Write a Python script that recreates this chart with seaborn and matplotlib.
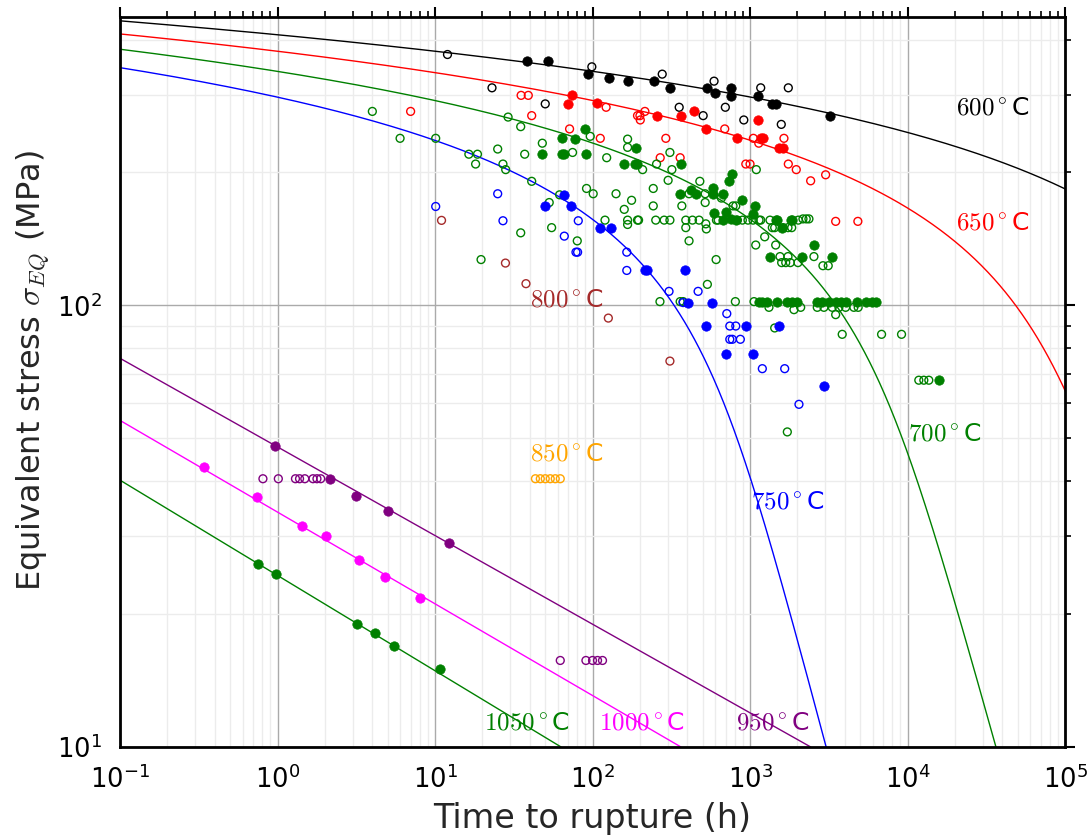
import numpy as np
import matplotlib
matplotlib.use("Agg")
import matplotlib.pyplot as plt
from matplotlib.ticker import NullFormatter, FixedLocator, LogFormatterSciNotation
import seaborn as sns

sns.set_theme(style="white")
plt.rcParams['font.family'] = ['DejaVu Sans']
plt.rcParams['mathtext.fontset'] = 'dejavusans'

# ---------------- data (time to rupture in h, stress in MPa) ----------------
# 600 C
t600_f = [38.2, 52.4, 93.5, 127, 168, 247, 311, 536, 597, 758, 755, 1129, 1373, 1455, 3217]
s600_f = [358, 358, 334, 328, 323, 322, 311, 311, 303, 311, 298, 298, 286, 286, 269]
t600_o = [12.0, 99, 277, 23.0, 50.1, 355, 591, 697, 504, 1169, 1750, 913, 1579]
s600_o = [370, 347, 334, 311, 286, 281, 322, 281, 269, 311, 311, 263, 257]

# 650 C
t650_f = [74.4, 70.2, 106, 256, 367, 442, 526, 831, 1129, 1169, 1209, 1527, 1619]
s650_f = [299, 286, 287, 269, 269, 275, 251, 239, 263, 239, 239, 227, 227]
t650_o = [7.0, 35.2, 39.1, 41.1, 122, 71.5, 112, 193, 200, 215, 201, 691, 1050, 1136,
          1642, 292, 269, 360, 940, 1000, 1750, 1966, 2426, 3020, 3497, 4838]
s650_o = [275, 299, 299, 269, 281, 251, 239, 269, 269, 275, 263, 251, 239, 233,
          239, 239, 216, 216, 209, 209, 209, 203, 191.5, 197.6, 155, 155]

# 700 C
t700_f = [64.3, 77.4, 89.5, 48.0, 64.0, 65.5, 90.3, 159, 187, 191, 188, 364, 360, 425, 453,
          583, 585, 671, 770, 736, 894, 1071, 1045, 591, 708, 674, 755, 812, 1455, 1490,
          1602, 1812, 1855, 1333, 2146, 2545, 3326,
          1141, 1197, 1287, 1490, 1725, 1855, 1995, 2672, 2873, 3170, 3497, 3760, 4045,
          4789, 5416, 5965, 6295, 15800]
s700_f = [239, 238, 251, 220, 220, 220, 220, 209, 209, 209, 227, 209, 179, 183, 179,
          184, 179, 179, 198, 191, 173, 168, 161, 162, 163, 156, 157, 156, 156, 156,
          150, 156, 156, 129, 129, 137, 129,
          102, 102, 102, 102, 102, 102, 102, 102, 102, 102, 102, 102, 102,
          102, 102, 102, 102, 67.7]
t700_o = [4.0, 6.0, 10.1, 29.1, 35.0, 48.0, 96.7, 74.7, 16.4, 18.6, 18.1, 25.0, 27.0, 28.1,
          37.1, 41.1, 53.1, 61.8, 55.0, 35.0, 19.6, 80.0, 91.6, 101, 123, 167, 167, 141,
          177, 159, 243, 243, 208, 255, 310, 319, 302, 480, 369, 410, 519, 658, 780, 812,
          1096, 519, 120, 167, 167, 193, 196, 252, 285, 310, 391, 391, 431, 475, 410, 524,
          528, 612, 627, 609, 831, 894, 971, 1045, 1141, 1169, 1239, 1087, 1455, 1385,
          1434, 1626, 1742, 1839, 2025, 2168, 2275, 2366, 1339, 1550, 1742, 1588, 1685,
          1801, 2016, 2545, 2903, 3137, 268, 360, 376, 807, 1060, 1319, 1901, 2097, 2672,
          2946, 3326, 3667, 4045, 4563, 4860, 3497, 3848, 6842, 9161, 1725, 11790, 12690,
          13650, 1434, 536]
s700_o = [275, 239, 239, 267, 254, 233, 241.5, 222, 220, 220, 209, 226, 209, 203,
          220, 191, 171, 178, 150, 146, 127, 140, 184, 179, 216, 238, 228, 179,
          173, 165, 184, 168, 203, 209, 222, 203, 192, 191, 168, 179, 179, 175, 168, 168,
          203, 171, 156, 156, 152.5, 156, 156, 156, 156, 156, 156, 150, 156, 156, 140, 153,
          149, 156, 156, 127, 156, 156, 156, 156, 156, 156, 143, 137, 137, 150,
          150, 150, 150, 150, 156, 157, 157, 157, 156, 129, 129, 125, 125,
          125, 125, 129, 123, 123, 102, 102, 102, 102, 102, 99, 97.8, 99, 99,
          99, 99, 99, 99, 99, 99, 95.3, 86, 86, 86, 51.7, 67.7, 67.7,
          67.7, 88.9, 111.6]

# 750 C
t750_f = [49.9, 66.2, 73.3, 112, 131, 215, 223, 387, 406, 577, 524, 940, 1527, 701, 1045, 2946]
s750_f = [167.5, 178, 167.5, 150, 150, 120, 120, 120, 101.4, 101.4, 89.8, 89.8, 89.8,
          77.7, 77.7, 65.7]
t750_o = [10.1, 25.0, 27.0, 81.2, 66.2, 78.5, 80.4, 165, 165, 306, 468, 376, 712, 744,
          812, 744, 772, 868, 1197, 1660, 2045]
s750_o = [167.5, 179, 155.5, 155.5, 143.5, 132, 132, 132, 120, 107.6, 107.6, 101.5,
          95.8, 89.8, 89.8, 83.8, 83.8, 83.8, 71.9, 71.9, 59.7]

# 800 C
t800_o = [11.0, 28.0, 37.8, 126, 310]
s800_o = [155.8, 124.7, 112, 93.6, 74.8]

# 850 C
t850_o = [43.4, 46.6, 50.1, 53.9, 58.0, 62.4]
s850_o = [40.5, 40.5, 40.5, 40.5, 40.5, 40.5]

# 950 C
t950_f = [0.963, 2.15, 3.13, 5.01, 12.2]
s950_f = [48.05, 40.5, 37.1, 34.2, 28.9]
t950_o = [0.808, 1.012, 1.30, 1.38, 1.49, 1.68, 1.78, 1.88, 62.4, 90.8, 100, 107.6, 115.7]
s950_o = [40.5, 40.5, 40.5, 40.5, 40.5, 40.5, 40.5, 40.5, 15.7, 15.7, 15.7, 15.7, 15.7]

# 1000 C
t1000_f = [0.341, 0.745, 1.437, 2.04, 3.27, 4.80, 8.0]
s1000_f = [43.05, 36.9, 31.7, 30.0, 26.5, 24.2, 21.7]

# 1050 C
t1050_f = [0.751, 0.983, 3.19, 4.15, 5.53, 10.8]
s1050_f = [25.9, 24.6, 18.95, 18.1, 16.9, 15.0]

# fitted curves: points
c600_t = [0.1, 4.44, 10.06, 99.5, 986, 4910, 96400]
c600_s = [441.4, 387.5, 377.5, 336.6, 298.7, 265, 184.9]
c650_t = [0.1, 4.44, 10.06, 99.5, 986, 4910, 22100, 45860, 88000]
c650_s = [412.5, 351, 336.2, 289.4, 242.5, 193.8, 133.2, 100, 63.2]
c700_t = [0.1, 4.44, 10.06, 110, 410.5, 1015, 2474, 3311, 6577, 9474, 19100, 36840]
c700_s = [381.4, 308.2, 291, 224.3, 188.5, 158.2, 113.9, 99, 67.7, 47, 21.5, 10.1]
c750_t = [0.1, 4.44, 10.06, 39.7, 99.5, 265.6, 551.3, 748.9, 1087, 1820, 3121]
c750_s = [343.8, 259.4, 236.2, 193.8, 153.3, 120, 79.1, 61.6, 36.2, 19.38, 10]
c950_t = [0.1, 2427]
c950_s = [75.9, 10]
c1000_t = [0.1, 364]
c1000_s = [54.9, 10]
c1050_t = [0.1, 63.1]
c1050_s = [40.2, 10]

x_ticks = [0.1, 1, 10, 100, 1000, 10000, 100000]
y_ticks = [10, 100]

labels = ['$600^\\circ$C', '$650^\\circ$C', '$700^\\circ$C', '$750^\\circ$C',
          '$800^\\circ$C', '$850^\\circ$C', '$950^\\circ$C', '$1000^\\circ$C', '$1050^\\circ$C']
label_t = [20250, 20250, 10040, 1015, 40.3, 40.3, 815, 110, 20.6]
label_s = [270.4, 148.5, 49.5, 34.7, 99.5, 44.6, 10.93, 10.93, 10.93]

C600, C650, C700, C750 = 'black', 'red', 'green', 'blue'
C800, C850, C950, C1000, C1050 = 'brown', 'orange', 'purple', 'magenta', 'green'
label_colors = [C600, C650, C700, C750, C800, C850, C950, C1000, C1050]

# ---------------- figure ----------------
fig = plt.figure(figsize=(10.9, 8.36), dpi=100)
ax = fig.add_axes([0.1101, 0.1065, 0.8670, 0.8732])
ax.set_xscale('log')
ax.set_yscale('log')
ax.set_xlim(0.1, 1e5)
ax.set_ylim(10, 450)

ax.grid(which='major', color='#aaaaaa', lw=1.0, zorder=0)
ax.grid(which='minor', color='#ececec', lw=1.0, zorder=0)
ax.set_axisbelow(True)

# ---- Larson-Miller master curve fitted to the points ----
LM_C = 17.5
lm_sets = [(600, c600_t, c600_s), (650, c650_t, c650_s), (700, c700_t, c700_s), (750, c750_t, c750_s)]
ls_all, P_all = [], []
for T, ts, ss in lm_sets:
    Tk = T + 273.15
    ls_all.append(np.log10(ss))
    P_all.append(Tk * (LM_C + np.log10(ts)) / 1000.0)
ls_all = np.concatenate(ls_all)
P_all = np.concatenate(P_all)

# P(log s) = a + b*log s + c*exp(k*log s); k chosen by least squares
best = None
for k in np.linspace(1.5, 12.0, 211):
    A = np.column_stack([np.ones_like(ls_all), ls_all, np.exp(k * ls_all)])
    coef = np.linalg.lstsq(A, P_all, rcond=None)[0]
    r = np.sum((A @ coef - P_all) ** 2)
    if best is None or r < best[0]:
        best = (r, k, coef)
_, lm_k, lm_coef = best


def lm_P(ls):
    return lm_coef[0] + lm_coef[1] * ls + lm_coef[2] * np.exp(lm_k * ls)


def lm_curve(T, col):
    Tk = T + 273.15
    lsg = np.linspace(0.98, 2.66, 900)
    ltg = lm_P(lsg) * 1000.0 / Tk - LM_C
    sns.lineplot(x=10 ** ltg, y=10 ** lsg, ax=ax, color=col, lw=1.0, sort=False,
                 estimator=None, zorder=2)


lm_curve(600, C600)
lm_curve(650, C650)
lm_curve(700, C700)
lm_curve(750, C750)

for ts, ss, col in [(c950_t, c950_s, C950), (c1000_t, c1000_s, C1000), (c1050_t, c1050_s, C1050)]:
    sns.lineplot(x=ts, y=ss, ax=ax, color=col, lw=1.0, sort=False, estimator=None, zorder=2)


def filled(t, s, col):
    sns.scatterplot(x=t, y=s, ax=ax, color=col, edgecolor=col, s=46, linewidth=0.5, zorder=3)


def hollow(t, s, col):
    sns.scatterplot(x=t, y=s, ax=ax, facecolor='none', edgecolor=col, s=32, linewidth=1.0, zorder=3)


hollow(t600_o, s600_o, C600); filled(t600_f, s600_f, C600)
hollow(t650_o, s650_o, C650); filled(t650_f, s650_f, C650)
hollow(t700_o, s700_o, C700); filled(t700_f, s700_f, C700)
hollow(t750_o, s750_o, C750); filled(t750_f, s750_f, C750)
hollow(t800_o, s800_o, C800)
hollow(t850_o, s850_o, C850)
hollow(t950_o, s950_o, C950); filled(t950_f, s950_f, C950)
filled(t1000_f, s1000_f, C1000)
filled(t1050_f, s1050_f, C1050)

for lab, tx, sy, col in zip(labels, label_t, label_s, label_colors):
    ax.text(tx, sy, lab, color=col, fontsize=18, ha='left', va='baseline',
            math_fontfamily='cm', zorder=4)

ax.xaxis.set_major_locator(FixedLocator(x_ticks))
ax.yaxis.set_major_locator(FixedLocator(y_ticks))
ax.xaxis.set_major_formatter(LogFormatterSciNotation())
ax.yaxis.set_major_formatter(LogFormatterSciNotation())
ax.xaxis.set_minor_formatter(NullFormatter())
ax.yaxis.set_minor_formatter(NullFormatter())
ax.tick_params(which='both', direction='out', top=True, right=True, colors='black')
ax.tick_params(which='major', length=7, width=1.5, labelsize=18.5, pad=6)
ax.tick_params(which='minor', length=4, width=1.2)
for sp in ax.spines.values():
    sp.set_linewidth(2.0)
    sp.set_color('black')

ax.set_xlabel('Time to rupture (h)', fontsize=24, labelpad=6)
ax.set_ylabel(r'Equivalent stress $\sigma_{EQ}$ (MPa)', fontsize=23, math_fontfamily='cm')
ax.yaxis.set_label_coords(-0.072, 0.515)

fig.savefig('out.png', dpi=100)
